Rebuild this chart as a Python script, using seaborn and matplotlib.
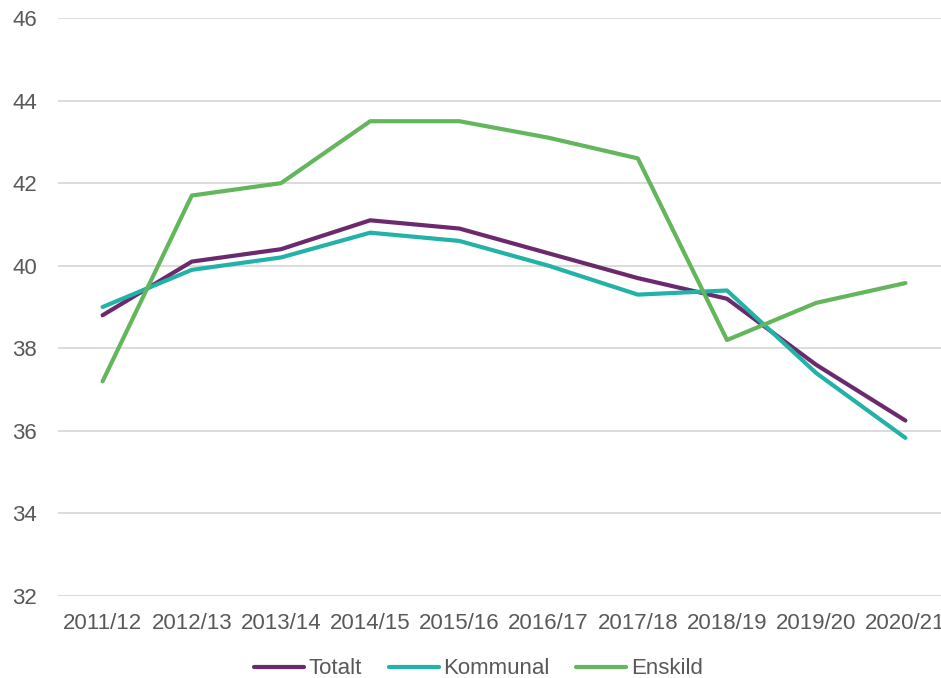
import matplotlib
matplotlib.use("Agg")
import matplotlib.pyplot as plt
import seaborn as sns
import pandas as pd
from matplotlib.lines import Line2D

years = ["2011/12", "2012/13", "2013/14", "2014/15", "2015/16",
         "2016/17", "2017/18", "2018/19", "2019/20", "2020/21"]
totalt = [38.8, 40.1, 40.4, 41.1, 40.9, 40.3, 39.7, 39.2, 37.6, 36.25]
kommunal = [39.0, 39.9, 40.2, 40.8, 40.6, 40.0, 39.3, 39.4, 37.4, 35.83]
enskild = [37.2, 41.7, 42.0, 43.5, 43.5, 43.1, 42.6, 38.2, 39.1, 39.58]
series = ["Totalt", "Kommunal", "Enskild"]
colors = ["#6B2A6E", "#22B2A8", "#64B65C"]
yticks = [32, 34, 36, 38, 40, 42, 44, 46]

rows = []
for name, vals in zip(series, [totalt, kommunal, enskild]):
    for i, (yr, v) in enumerate(zip(years, vals)):
        rows.append({"pos": i, "year": yr, "value": v, "series": name})
df = pd.DataFrame(rows)

sns.set_theme(style="white")
plt.rcParams["font.family"] = ["Liberation Sans", "DejaVu Sans"]
txt = "#595959"

fig = plt.figure(figsize=(9.41, 6.78), dpi=100)
ax = fig.add_axes([58 / 941, (678 - 596) / 678, 892 / 941, 578 / 678])

sns.lineplot(data=df, x="pos", y="value", hue="series", hue_order=series,
             palette=colors, linewidth=3, ax=ax, legend=False, sort=False)

ax.set_xlim(-0.5, len(years) - 0.5)
ax.set_ylim(32, 46)
ax.set_yticks(yticks)
ax.set_yticklabels([str(t) for t in yticks], fontsize=16, color=txt)
ax.set_xticks(range(len(years)))
ax.set_xticklabels(years, fontsize=16, color=txt)
ax.tick_params(axis="x", length=0, pad=12)
ax.tick_params(axis="y", length=0, pad=15)
ax.grid(axis="y", color="#D9D9D9", linewidth=1.3)
ax.set_axisbelow(True)
for s in ax.spines.values():
    s.set_visible(False)
ax.set_xlabel("")
ax.set_ylabel("")

handles = [Line2D([0], [0], color=c, linewidth=3, solid_capstyle="round") for c in colors]
leg = fig.legend(handles, series, loc="center",
                 bbox_to_anchor=(0.5 + 8 / 941, (678 - 669) / 678),
                 ncol=3, frameon=False, fontsize=16, handlelength=2.25,
                 handletextpad=0.2, columnspacing=1.2)
for t in leg.get_texts():
    t.set_color(txt)

fig.savefig("out.png", dpi=100)
